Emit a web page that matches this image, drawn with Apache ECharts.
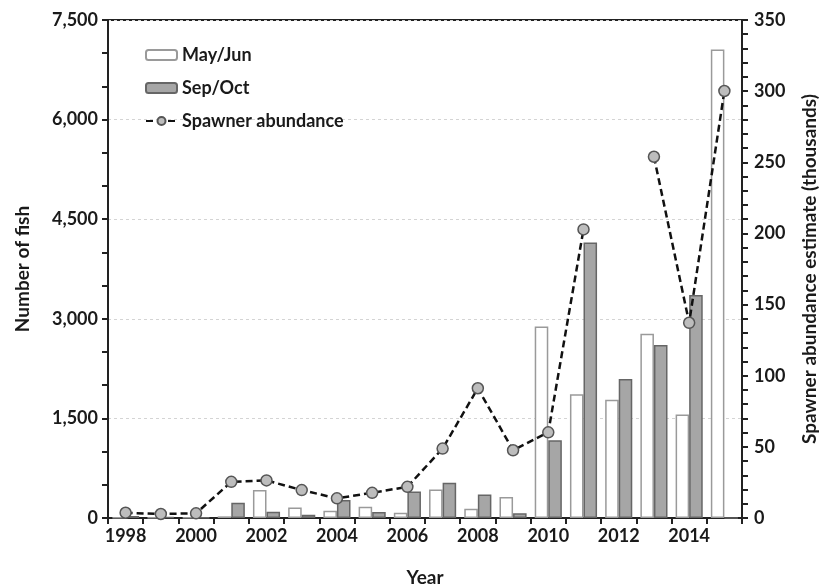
<!DOCTYPE html>
<html>
<head>
<meta charset="utf-8">
<script src="https://cdn.jsdelivr.net/npm/echarts@6/dist/echarts.min.js"></script>
<style>
  html, body { margin: 0; padding: 0; background: #fff; }
  #chart { width: 827px; height: 587px; }
</style>
</head>
<body>
<div id="chart"></div>
<script>
// Survey years
const years = ['1998','1999','2000','2001','2002','2003','2004','2005','2006','2007',
               '2008','2009','2010','2011','2012','2013','2014','2015'];

// Number of fish caught in each sampling window
const mayJun = [10, 5, 5, 25, 420, 160, 110, 170, 80, 430, 140, 315, 2885, 1865, 1780, 2775, 1560, 7055];
const sepOct = [30, 15, 5, 230, 95, 50, 270, 90, 400, 530, 355, 70, 1170, 4150, 2095, 2605, 3360, 0];

// Spawner abundance estimate (thousands); no estimate for 2012
const spawners = [3.7, 2.8, 3.3, 25.4, 26.4, 19.6, 13.8, 17.7, 21.9, 48.8, 91.2, 47.6, 60.2, 202.8, null, 253.9, 137.2, 300.1];

const FONT = 'Lato';
const TEXT = '#1a1a1a';
const TICK_SIZE = 18;
const NAME_SIZE = 19;

const chart = echarts.init(document.getElementById('chart'));

chart.setOption({
  animation: false,
  backgroundColor: '#fff',
  textStyle: { fontFamily: FONT },
  grid: {
    left: 108, right: 85, top: 20, bottom: 69,
    outerBoundsMode: 'none',
    containLabel: false,
    show: true, borderColor: '#222', borderWidth: 2, backgroundColor: 'transparent'
  },
  legend: {
    orient: 'vertical',
    left: 140, top: 41,
    itemWidth: 31, itemHeight: 10,
    itemGap: 15,
    textStyle: { fontFamily: FONT, fontWeight: 'bold', fontSize: 18, color: TEXT },
    data: ['May/Jun', 'Sep/Oct', 'Spawner abundance']
  },
  xAxis: {
    type: 'category',
    data: years,
    name: 'Year',
    nameLocation: 'middle',
    nameGap: 50,
    nameTextStyle: { fontFamily: FONT, fontWeight: 'bold', fontSize: NAME_SIZE, color: TEXT },
    axisLine: { lineStyle: { color: '#222', width: 2 } },
    axisTick: { show: true, interval: 0, length: 6, lineStyle: { color: '#222', width: 2 } },
    axisLabel: { interval: 1, margin: 9, fontFamily: FONT, fontWeight: 'bold', fontSize: TICK_SIZE, color: TEXT },
    splitLine: { show: false }
  },
  yAxis: [
    {
      type: 'value',
      min: 0, max: 7500, interval: 1500,
      name: 'Number of fish',
      nameLocation: 'middle',
      nameGap: 76,
      nameRotate: 90,
      nameTextStyle: { fontFamily: FONT, fontWeight: 'bold', fontSize: NAME_SIZE, color: TEXT },
      axisLine: { show: true, lineStyle: { color: '#222', width: 2 } },
      axisTick: { show: true, length: 6, lineStyle: { color: '#222', width: 2 } },
      minorTick: { show: true, splitNumber: 3, length: 6, lineStyle: { color: '#222', width: 2 } },
      axisLabel: {
        margin: 10, fontFamily: FONT, fontWeight: 'bold', fontSize: TICK_SIZE, color: TEXT,
        formatter: v => v.toLocaleString('en-US')
      },
      splitLine: { show: true, lineStyle: { color: '#d4d4d4', type: [3, 3], width: 1 } }
    },
    {
      type: 'value',
      min: 0, max: 350, interval: 50,
      position: 'right',
      name: 'Spawner abundance estimate (thousands)',
      nameLocation: 'middle',
      nameGap: 58,
      nameRotate: 90,
      nameTextStyle: { fontFamily: FONT, fontWeight: 'bold', fontSize: NAME_SIZE, color: TEXT },
      axisLine: { show: true, lineStyle: { color: '#222', width: 2 } },
      axisTick: { show: true, length: 6, lineStyle: { color: '#222', width: 2 } },
      minorTick: { show: true, splitNumber: 5, length: 6, lineStyle: { color: '#222', width: 2 } },
      axisLabel: { margin: 12, fontFamily: FONT, fontWeight: 'bold', fontSize: TICK_SIZE, color: TEXT },
      splitLine: { show: false }
    }
  ],
  series: [
    {
      name: 'May/Jun',
      type: 'bar',
      data: mayJun,
      barGap: '0%',
      barCategoryGap: '23%',
      itemStyle: { color: '#ffffff', borderColor: '#9a9a9a', borderWidth: 1.5 }
    },
    {
      name: 'Sep/Oct',
      type: 'bar',
      data: sepOct,
      itemStyle: { color: '#a6a6a6', borderColor: '#666', borderWidth: 1.5 }
    },
    {
      name: 'Spawner abundance',
      type: 'line',
      yAxisIndex: 1,
      data: spawners,
      connectNulls: false,
      symbol: 'circle',
      symbolSize: 11,
      lineStyle: { color: '#111', width: 2.5, type: [7, 4] },
      itemStyle: { color: '#bdbdbd', borderColor: '#555', borderWidth: 1.5 },
      z: 5
    }
  ]
});
</script>
</body>
</html>
